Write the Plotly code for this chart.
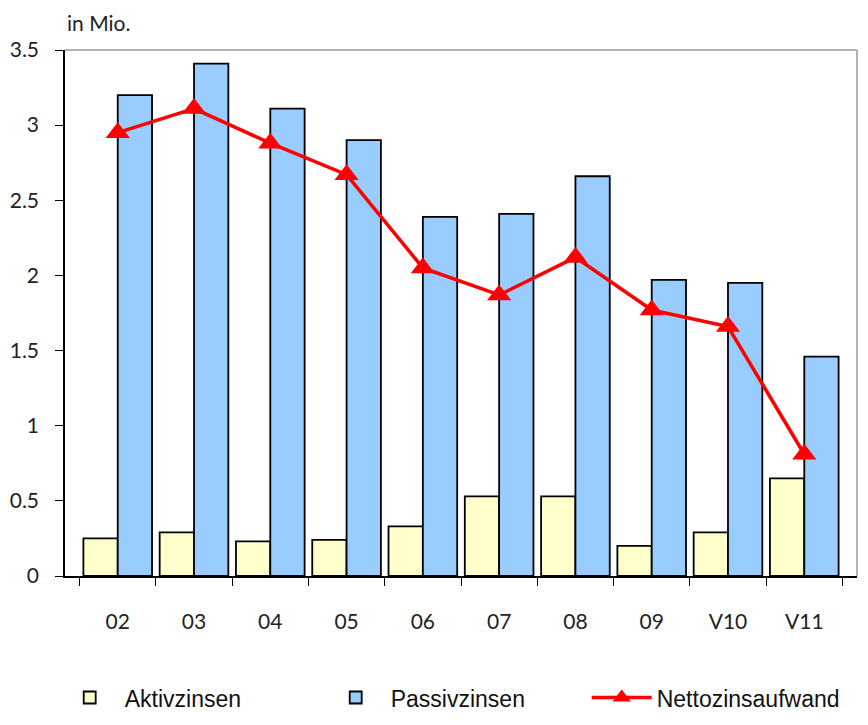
import plotly.graph_objects as go

categories = ["02", "03", "04", "05", "06", "07", "08", "09", "V10", "V11"]
aktivzinsen = [0.25, 0.29, 0.23, 0.24, 0.33, 0.53, 0.53, 0.20, 0.29, 0.65]
passivzinsen = [3.20, 3.41, 3.11, 2.90, 2.39, 2.41, 2.66, 1.97, 1.95, 1.46]
nettozinsaufwand = [2.95, 3.11, 2.88, 2.67, 2.05, 1.87, 2.12, 1.77, 1.66, 0.81]
y_ticks = [0, 0.5, 1, 1.5, 2, 2.5, 3, 3.5]

font_main = "Lato, 'Liberation Sans', Arial, sans-serif"

fig = go.Figure()
fig.add_trace(go.Bar(
    x=categories, y=aktivzinsen, name="Aktivzinsen",
    marker=dict(color="#FFFFCC", line=dict(color="#000000", width=1.8)),
))
fig.add_trace(go.Bar(
    x=categories, y=passivzinsen, name="Passivzinsen",
    marker=dict(color="#99CCFF", line=dict(color="#000000", width=1.8)),
))
fig.add_trace(go.Scatter(
    x=categories, y=nettozinsaufwand, name="Nettozinsaufwand",
    mode="lines+markers",
    line=dict(color="#FF0000", width=3.5),
    marker=dict(symbol="triangle-up", size=21, color="#FF0000"),
))

fig.update_layout(
    width=868, height=725,
    margin=dict(l=57, r=19, t=42, b=157, autoexpand=False),
    paper_bgcolor="white", plot_bgcolor="white",
    barmode="group", bargap=0.1, bargroupgap=0,
    font=dict(family=font_main, size=21, color="#222222"),
    showlegend=True,
    legend=dict(
        orientation="h", x=-0.013, xanchor="left",
        y=-0.272, yanchor="bottom",
        font=dict(family="'Liberation Sans', Arial, sans-serif", size=23, color="#111111"),
        itemwidth=60, entrywidth=191, traceorder="normal",
    ),
    xaxis=dict(
        type="category", showline=True, linecolor="#000000", linewidth=1.5,
        ticks="outside", tickson="boundaries", ticklen=8, tickcolor="#000000",
        ticklabelstandoff=26, showgrid=False, automargin=False,
        tickfont=dict(size=21),
    ),
    yaxis=dict(
        range=[0, 3.5], tickvals=y_ticks, showline=True, linecolor="#000000",
        linewidth=1.5, ticks="outside", ticklen=8, tickcolor="#000000",
        showgrid=False, zeroline=False, ticklabelstandoff=12, automargin=False,
        tickfont=dict(size=21),
    ),
    annotations=[dict(
        text="in Mio.", xref="paper", yref="paper", x=0, y=1.0,
        xanchor="left", yanchor="bottom", yshift=13, showarrow=False,
        font=dict(size=21, color="#222222"),
    )],
    shapes=[
        dict(type="line", xref="paper", yref="paper", x0=0, x1=1, y0=1, y1=1,
             line=dict(color="#999999", width=1.5)),
        dict(type="line", xref="paper", yref="paper", x0=1, x1=1, y0=0, y1=1,
             line=dict(color="#999999", width=1.5)),
    ],
)

fig.write_html("out.html")
